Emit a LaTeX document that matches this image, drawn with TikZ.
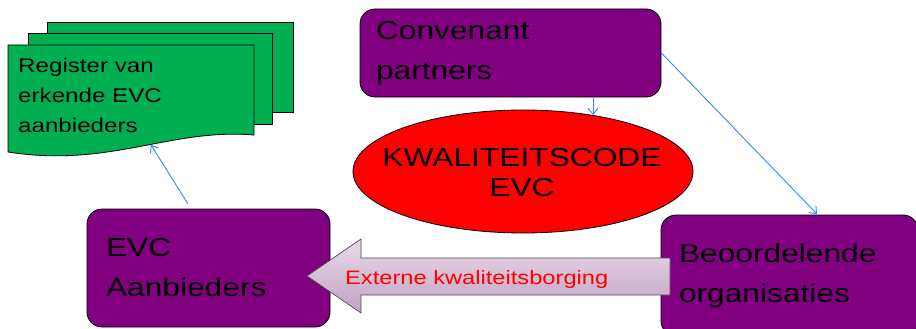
\documentclass[tikz,border=0pt]{standalone}
\usepackage{fontspec}
\setmainfont[FakeStretch=1.22]{Liberation Sans}
\usetikzlibrary{shapes.geometric,arrows.meta}
\definecolor{purp}{RGB}{128,0,128}
\definecolor{docgreen}{RGB}{0,176,80}
\definecolor{lnblue}{RGB}{51,136,255}
\definecolor{arrtop}{RGB}{232,218,232}
\definecolor{arrbot}{RGB}{194,162,194}
\begin{document}
\begin{tikzpicture}[x=1pt,y=-1pt,
  purplebox/.style={draw=black, line width=0.8pt, fill=purp, rounded corners=15pt,
    align=left, inner ysep=0pt, font=\fontsize{26}{40}\selectfont},
  docpage/.style={draw=black, line width=0.8pt, fill=docgreen},
  conn/.style={draw=lnblue, line width=0.9pt, -{Straight Barb[length=6pt,width=10pt]}},
  blockarrow/.style={draw=black!70, line width=0.7pt, top color=arrtop, bottom color=arrbot}]
\useasboundingbox (0,0) rectangle (916,329);

% document stack
\draw[docpage] (47,22) rectangle (293,112);
\draw[docpage] (28,33) rectangle (272,124);
\draw[docpage] (8,45) -- (254,45) -- (254,135) .. controls (170,128) and (110,168) .. (8,152) -- cycle;
\node[anchor=north west, inner sep=0pt, align=left, font=\fontsize{19.8}{30}\selectfont]
  (reg) at (18,57.8) {Register van\\erkende EVC\\aanbieders};

% boxes
\node[purplebox, minimum width=301pt, minimum height=88pt, text width=269pt, inner xsep=16pt]
  (conv) at (510.5,53) {Convenant\\partners};
\node[purplebox, minimum width=243pt, minimum height=118pt, text width=205pt, inner xsep=19pt]
  (evc) at (208.5,268) {EVC\\Aanbieders};
\node[purplebox, minimum width=257pt, minimum height=121pt, text width=221pt, inner xsep=18pt]
  (beo) at (789.5,275.5) {Beoordelende\\organisaties};

% ellipse
\node[ellipse, draw=black, line width=0.8pt, fill=red, minimum width=340pt, minimum height=123pt,
  inner sep=0pt] (kwal) at (523,171.5) {};
\node[anchor=north, inner sep=0pt, align=center, font=\fontsize{26}{30}\selectfont]
  (kwaltext) at (522,148.4) {KWALITEITSCODE\\EVC};

% connectors
\coordinate (c1s) at (188,204);
\coordinate (c1e) at (151,145);
\coordinate (c2s) at (593,97);
\coordinate (c2e) at (593,115);
\coordinate (c3e) at (817,214);
\draw[conn] (c1s) -- (c1e);
\draw[conn] (c2s) -- (c2e);
\draw[conn] (conv.east) -- (c3e);

% block arrow
\draw[blockarrow] (670,258) -- (361,258) -- (361,239) -- (307,276) -- (361,313) -- (361,295) -- (670,295) -- cycle;
\node[anchor=base west, inner sep=0pt, text=red, font=\fontsize{19.4}{22}\selectfont]
  (ext) at (345,284) {Externe kwaliteitsborging};
\end{tikzpicture}
\end{document}
